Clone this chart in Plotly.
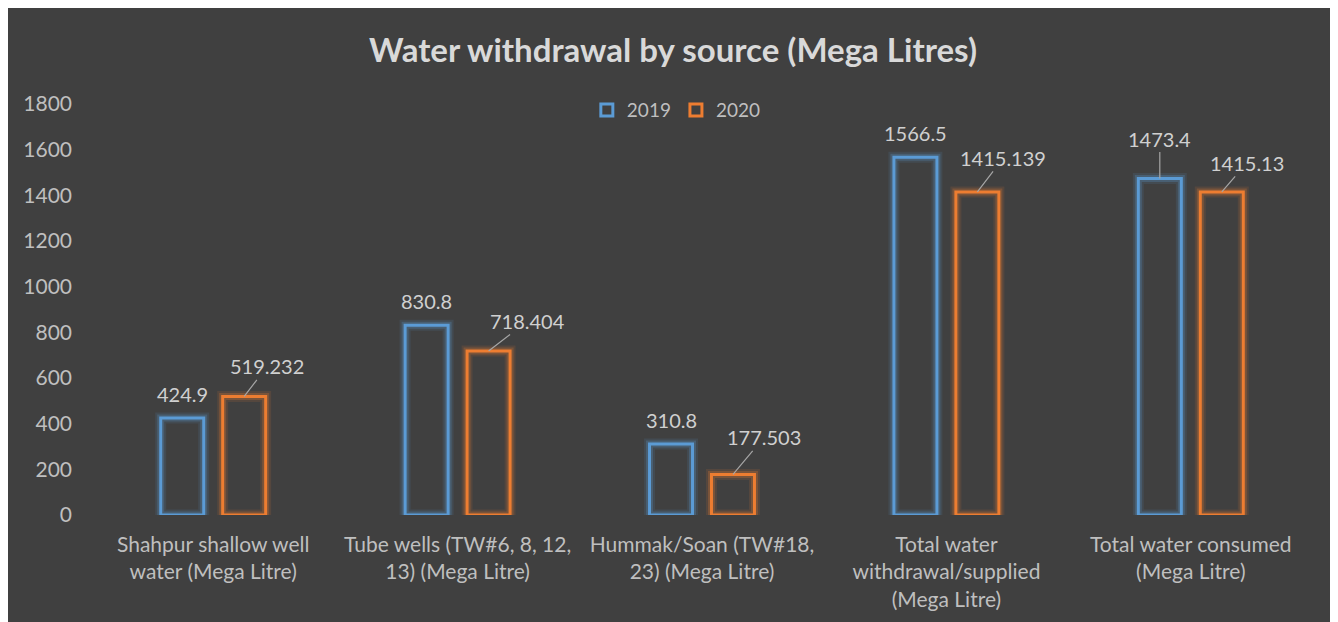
import plotly.graph_objects as go

categories = [
    "Shahpur shallow well<br>water (Mega Litre)",
    "Tube wells (TW#6, 8, 12,<br>13) (Mega Litre)",
    "Hummak/Soan (TW#18,<br>23) (Mega Litre)",
    "Total water<br>withdrawal/supplied<br>(Mega Litre)",
    "Total water consumed<br>(Mega Litre)",
]
values_2019 = [424.9, 830.8, 310.8, 1566.5, 1473.4]
values_2020 = [519.232, 718.404, 177.503, 1415.139, 1415.13]
labels_2019 = ["424.9", "830.8", "310.8", "1566.5", "1473.4"]
labels_2020 = ["519.232", "718.404", "177.503", "1415.139", "1415.13"]
y_ticks = [0, 200, 400, 600, 800, 1000, 1200, 1400, 1600, 1800]

BLUE = "#5b9bd5"
ORANGE = "#ed7d31"
BG = "#404040"
FONT = "Lato"

# label offsets (pixels): (ax, ay, leader line?)
off_2019 = [(0, -24, False), (0, -24, False), (0, -24, False), (0, -24, False), (0, -40, True)]
off_2020 = [(23, -30, True), (39, -30, True), (31, -37, True), (26, -34, True), (25, -29, True)]

fig = go.Figure()


def add_series(name, vals, color, rgb):
    for w, a in [(11, 0.12), (7, 0.25)]:
        fig.add_trace(go.Bar(
            x=categories, y=vals, name=name, offsetgroup=name, showlegend=False,
            marker=dict(color="rgba(0,0,0,0)", line=dict(color=f"rgba({rgb},{a})", width=w)),
            hoverinfo="skip",
        ))
    fig.add_trace(go.Bar(
        x=categories, y=vals, name=name, offsetgroup=name,
        marker=dict(color="rgba(0,0,0,0)", line=dict(color=color, width=3)),
    ))


add_series("2019", values_2019, BLUE, "91,155,213")
add_series("2020", values_2020, ORANGE, "237,125,49")

for vals, labs, offs, shift in [(values_2019, labels_2019, off_2019, -31),
                                (values_2020, labels_2020, off_2020, 31)]:
    for c, v, t, (ax, ay, line) in zip(categories, vals, labs, offs):
        if line:
            fig.add_annotation(x=c, y=v, xshift=shift, text=t, showarrow=True,
                               ax=ax, ay=ay, arrowhead=0, arrowwidth=1.2,
                               arrowcolor="#a6a6a6", standoff=0,
                               font=dict(family=FONT, size=20, color="#d0d0d0"))
        else:
            fig.add_annotation(x=c, y=v, xshift=shift, yshift=-ay, text=t,
                               showarrow=False,
                               font=dict(family=FONT, size=20, color="#d0d0d0"))

# thin light edge at the right side of the chart
fig.add_shape(type="rect", xref="paper", yref="paper", xsizemode="pixel", xanchor=1,
              x0=23, x1=30, y0=-0.5, y1=1.5, fillcolor="#e6e6e6",
              line=dict(width=0), layer="above")

fig.update_layout(
    width=1330, height=614,
    paper_bgcolor=BG, plot_bgcolor=BG,
    margin=dict(l=83, r=25, t=96, b=107),
    barmode="group", bargap=0.493, bargroupgap=0.306,
    title=dict(text="<b>Water withdrawal by source (Mega Litres)</b>",
               x=0.5, xref="container", y=1 - 42 / 614, yref="container",
               xanchor="center", yanchor="middle",
               font=dict(family=FONT, size=33, color="#d9d9d9")),
    legend=dict(orientation="h", x=0.479, xanchor="center", y=0.985, yanchor="middle",
                font=dict(family=FONT, size=19, color="#bfbfbf"),
                bgcolor="rgba(0,0,0,0)", itemwidth=30, tracegroupgap=0),
    showlegend=True,
    xaxis=dict(showgrid=False, zeroline=False, showline=False, ticks="",
               tickfont=dict(family=FONT, size=21, color="#bfbfbf"),
               ticklabelstandoff=15),
    yaxis=dict(range=[0, 1800], tickvals=y_ticks, showgrid=False, zeroline=False,
               showline=False, ticks="",
               tickfont=dict(family=FONT, size=21, color="#bfbfbf"),
               ticklabelstandoff=18),
)

fig.write_html("out.html")
